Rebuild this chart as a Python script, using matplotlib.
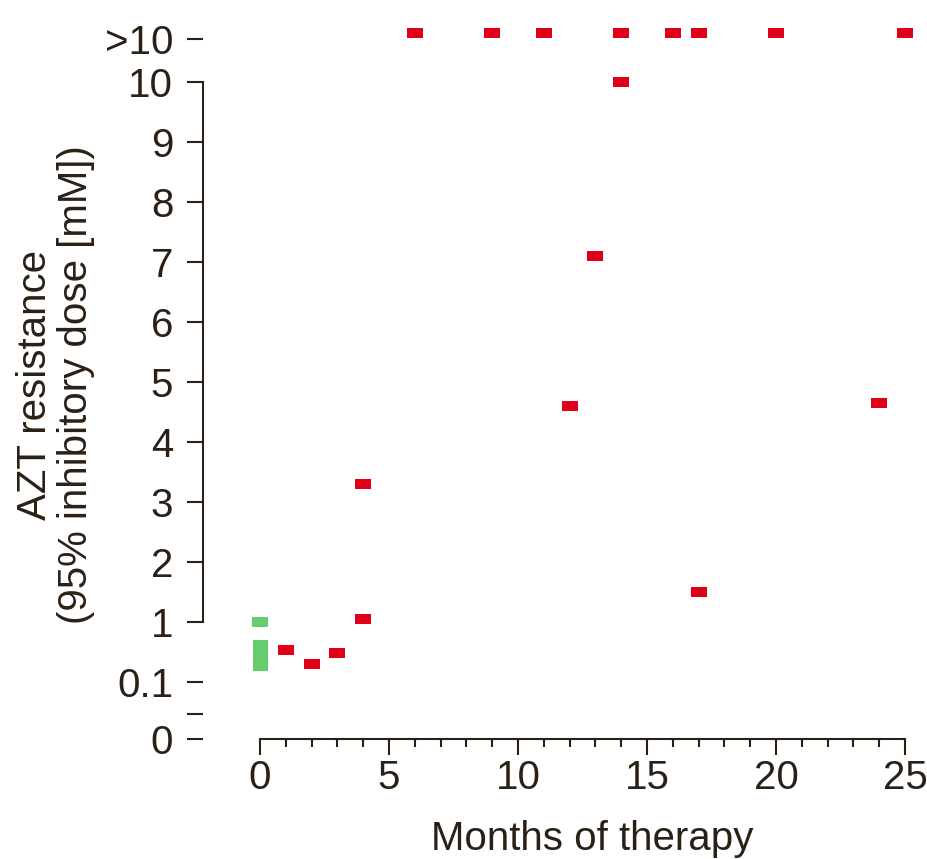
import numpy as np
import matplotlib
matplotlib.use('Agg')
import matplotlib.pyplot as plt

# ">10" values are shown on their own row above 10
OVER = 11.15

red_months = [1, 2, 3, 4, 4, 12, 13, 14, 17, 24, 6, 9, 11, 14, 16, 17, 20, 25]
red_values = [0.34, 0.2, 0.3, 1.05, 3.3, 4.6, 7.1, 10.0, 1.5, 4.65,
              OVER, OVER, OVER, OVER, OVER, OVER, OVER, OVER]

green_months = [0]
green_values = [1.0]
green_range = (0.15, 0.5)  # baseline spread at month 0

ytick_vals = [0, 0.044, 0.1, 1, 2, 3, 4, 5, 6, 7, 8, 9, 10, 11]
ytick_labels = ['0', '', '0.1', '1', '2', '3', '4', '5', '6', '7', '8', '9', '10', '>10']

ink = '#2b2016'
red = '#e1001a'
green = '#66cc6e'


def fwd(v):
    v = np.asarray(v, float)
    lo = -0.955 + v * 9.55
    mid = 1 + np.log10(np.clip(v, 0.1, 1))
    hi = np.where(v > 10, 10 + (v - 10) * 0.71, v)
    return np.where(v < 0.1, lo, np.where(v < 1, mid, hi))


def inv(p):
    p = np.asarray(p, float)
    lo = (p + 0.955) / 9.55
    mid = 10 ** (np.clip(p, 0, 1) - 1)
    hi = np.where(p > 10, 10 + (p - 10) / 0.71, p)
    return np.where(p < 0, lo, np.where(p < 1, mid, hi))


plt.rcParams['font.family'] = ['Liberation Sans', 'DejaVu Sans']
plt.rcParams['text.color'] = ink

fig = plt.figure(figsize=(9.28, 8.59), dpi=100)
ax = fig.add_axes([203 / 928, 120 / 859, 715 / 928, 717.3 / 859])

ax.set_yscale('function', functions=(fwd, inv))
ax.set_xlim(-2.21, 25.5)
ax.set_ylim(0, 10 + 1 / 0.71)

rect = [(-1.5, -1), (1.5, -1), (1.5, 1), (-1.5, 1), (-1.5, -1)]
ax.bar(green_months[0], green_range[1] - green_range[0], bottom=green_range[0],
       width=0.58, color=green, linewidth=0)
ax.plot(green_months, green_values, linestyle='none', marker=rect,
        markersize=11.3, color=green, markeredgewidth=0)
ax.plot(red_months, red_values, linestyle='none', marker=rect,
        markersize=11.3, color=red, markeredgewidth=0)

for s in ['top', 'right']:
    ax.spines[s].set_visible(False)
ax.spines['left'].set_bounds(1, 10)
ax.spines['bottom'].set_bounds(0, 25)
for s in ['left', 'bottom']:
    ax.spines[s].set_linewidth(1.5)
    ax.spines[s].set_color(ink)

ax.set_yticks(ytick_vals)
ax.set_yticklabels(ytick_labels)
ax.set_xticks(range(0, 26, 5))
ax.set_xticks(range(0, 26), minor=True)

ax.tick_params(axis='y', length=11.5, width=1.5, pad=10, labelsize=29,
               colors=ink)
ax.tick_params(axis='x', which='major', length=11.5, width=1.5, pad=3,
               labelsize=29, colors=ink)
ax.tick_params(axis='x', which='minor', length=6, width=1.5, colors=ink)

ax.set_xlabel('Months of therapy', fontsize=29, color=ink)
ax.xaxis.set_label_coords(0.545, -0.113)
yl = ax.set_ylabel('AZT resistance\n(95% inhibitory dose [mM])', fontsize=29,
                   color=ink, linespacing=1.1)
yl.set_va('center')
ax.yaxis.set_label_coords(-0.206, 0.4935)

fig.savefig('out.png', dpi=100)
